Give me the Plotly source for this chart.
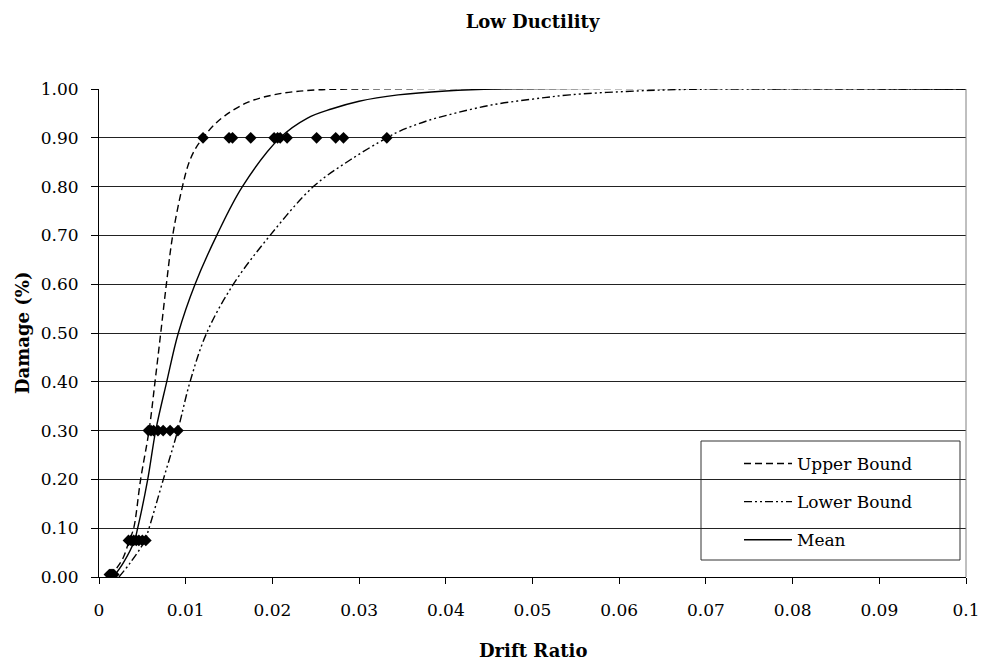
import plotly.graph_objects as go

# ---- data ----
upper_x = [0.0013, 0.0020, 0.0028, 0.0035, 0.0040, 0.0048, 0.00577, 0.00646, 0.00712, 0.00777,
           0.0085, 0.00962, 0.0104, 0.0112, 0.0120, 0.0132, 0.0145, 0.0172, 0.0207, 0.0250,
           0.0300, 0.1000]
upper_y = [0.0, 0.017, 0.040, 0.075, 0.10, 0.20, 0.30, 0.40, 0.50, 0.60,
           0.70, 0.80, 0.85, 0.88, 0.90, 0.925, 0.945, 0.973, 0.990, 0.998,
           1.0, 1.0]

lower_x = [0.0023, 0.0036, 0.0053, 0.00577, 0.00742, 0.00908, 0.0105, 0.01242, 0.0155, 0.01973,
           0.02473, 0.0290, 0.0332, 0.0346, 0.0377, 0.0412, 0.0455, 0.0499, 0.0543, 0.0608,
           0.0673, 0.0750, 0.1000]
lower_y = [0.0, 0.029, 0.075, 0.10, 0.20, 0.30, 0.40, 0.50, 0.60, 0.70,
           0.80, 0.855, 0.90, 0.913, 0.934, 0.951, 0.968, 0.979, 0.988, 0.995,
           0.999, 1.0, 1.0]

mean_x = [0.00165, 0.0028, 0.0041, 0.00446, 0.00562, 0.00654, 0.00781, 0.00915, 0.01108, 0.01358,
          0.01654, 0.02088, 0.0240, 0.0268, 0.0300, 0.0345, 0.0400, 0.0460, 0.1000]
mean_y = [0.0, 0.029, 0.075, 0.10, 0.20, 0.30, 0.40, 0.50, 0.60, 0.70,
          0.80, 0.90, 0.940, 0.959, 0.975, 0.988, 0.996, 1.0, 1.0]

data_x = [0.0012, 0.0013, 0.0014, 0.0015, 0.0016, 0.0017,
          0.0034, 0.0037, 0.0040, 0.0043, 0.0046, 0.0050, 0.0054,
          0.0057, 0.0060, 0.0063, 0.0068, 0.0074, 0.0082, 0.0091,
          0.0120, 0.0150, 0.0154, 0.0175, 0.0202, 0.0206, 0.0209, 0.0217,
          0.0251, 0.0273, 0.0282, 0.0332]
data_y = [0.005] * 6 + [0.075] * 7 + [0.30] * 7 + [0.90] * 12

x_ticks = [0, 0.01, 0.02, 0.03, 0.04, 0.05, 0.06, 0.07, 0.08, 0.09, 0.1]
x_tick_labels = ["0", "0.01", "0.02", "0.03", "0.04", "0.05", "0.06", "0.07", "0.08", "0.09", "0.1"]
y_ticks = [0.0, 0.1, 0.2, 0.3, 0.4, 0.5, 0.6, 0.7, 0.8, 0.9, 1.0]
y_tick_labels = ["0.00", "0.10", "0.20", "0.30", "0.40", "0.50", "0.60", "0.70", "0.80", "0.90", "1.00"]

FONT = "DejaVu Serif"

fig = go.Figure()

fig.add_trace(go.Scatter(
    x=data_x, y=data_y, mode="markers", showlegend=False,
    marker=dict(symbol="diamond", size=9, color="black", line=dict(width=0)),
    hoverinfo="skip"))

SM = 1.0
fig.add_trace(go.Scatter(
    x=upper_x, y=upper_y, mode="lines", name="Upper Bound", legendgroup="a",
    line=dict(color="black", width=1.4, dash="7px,4px", shape="spline", smoothing=SM)))
fig.add_trace(go.Scatter(
    x=lower_x, y=lower_y, mode="lines", name="Lower Bound", legendgroup="b",
    line=dict(color="black", width=1.4, dash="8px,3px,2px,3px,2px,3px", shape="spline", smoothing=SM)))
fig.add_trace(go.Scatter(
    x=mean_x, y=mean_y, mode="lines", name="Mean", legendgroup="c",
    line=dict(color="black", width=1.4, shape="spline", smoothing=SM)))

W, H = 984, 661
ml, mr, mt, mb = 99, 18, 89, 84
pw, ph = W - ml - mr, H - mt - mb

def px_x(p):
    return (p - ml) / pw

def px_y(p):
    return (H - mb - p) / ph

fig.update_layout(
    width=W, height=H,
    margin=dict(l=ml, r=mr, t=mt, b=mb, pad=0, autoexpand=False),
    paper_bgcolor="white", plot_bgcolor="white",
    font=dict(family=FONT, size=17, color="black"),
    title=dict(text="Low Ductility", x=0.5, xanchor="center", xref="paper",
               y=1 - 22 / H, yanchor="middle", yref="container",
               font=dict(family=FONT, size=18, weight="bold", color="black")),
    showlegend=True,
    legend=dict(x=px_x(739), y=px_y(446), xanchor="left", yanchor="top",
                bgcolor="rgba(0,0,0,0)", borderwidth=0,
                font=dict(family=FONT, size=17, color="black"),
                itemwidth=48, tracegroupgap=13, traceorder="grouped"),
    xaxis=dict(range=[0, 0.1], tickmode="array", tickvals=x_ticks, ticktext=x_tick_labels,
               showgrid=False, zeroline=False, showline=True, linecolor="black", linewidth=1,
               ticks="outside", ticklen=6, tickcolor="black", tickwidth=1, automargin=False,
               ticklabelstandoff=12, tickfont=dict(family=FONT, size=17)),
    yaxis=dict(range=[0, 1], tickmode="array", tickvals=y_ticks, ticktext=y_tick_labels,
               showgrid=True, gridcolor="#222222", gridwidth=1, zeroline=False,
               showline=True, linecolor="black", linewidth=1, automargin=False,
               ticks="outside", ticklen=7, tickcolor="black", tickwidth=1,
               ticklabelstandoff=9, tickfont=dict(family=FONT, size=17)),
    shapes=[
        dict(type="line", xref="paper", yref="paper", x0=1, x1=1, y0=0, y1=1,
             line=dict(color="#808080", width=1)),
        dict(type="rect", xref="paper", yref="paper",
             x0=px_x(701), x1=px_x(960), y0=px_y(560), y1=px_y(441),
             line=dict(color="#333333", width=1), fillcolor="white", layer="below"),
    ],
    annotations=[
        dict(text="Drift Ratio", xref="paper", yref="paper", x=0.5, y=0,
             xanchor="center", yanchor="middle", yshift=-(650 - (H - mb)), showarrow=False,
             font=dict(family=FONT, size=18, weight="bold", color="black")),
        dict(text="Damage (%)", xref="paper", yref="paper", x=0, y=0.5, textangle=-90,
             xanchor="center", yanchor="middle", xshift=-(ml - 22), showarrow=False,
             font=dict(family=FONT, size=18, weight="bold", color="black")),
    ],
)

fig.write_html("out.html")
